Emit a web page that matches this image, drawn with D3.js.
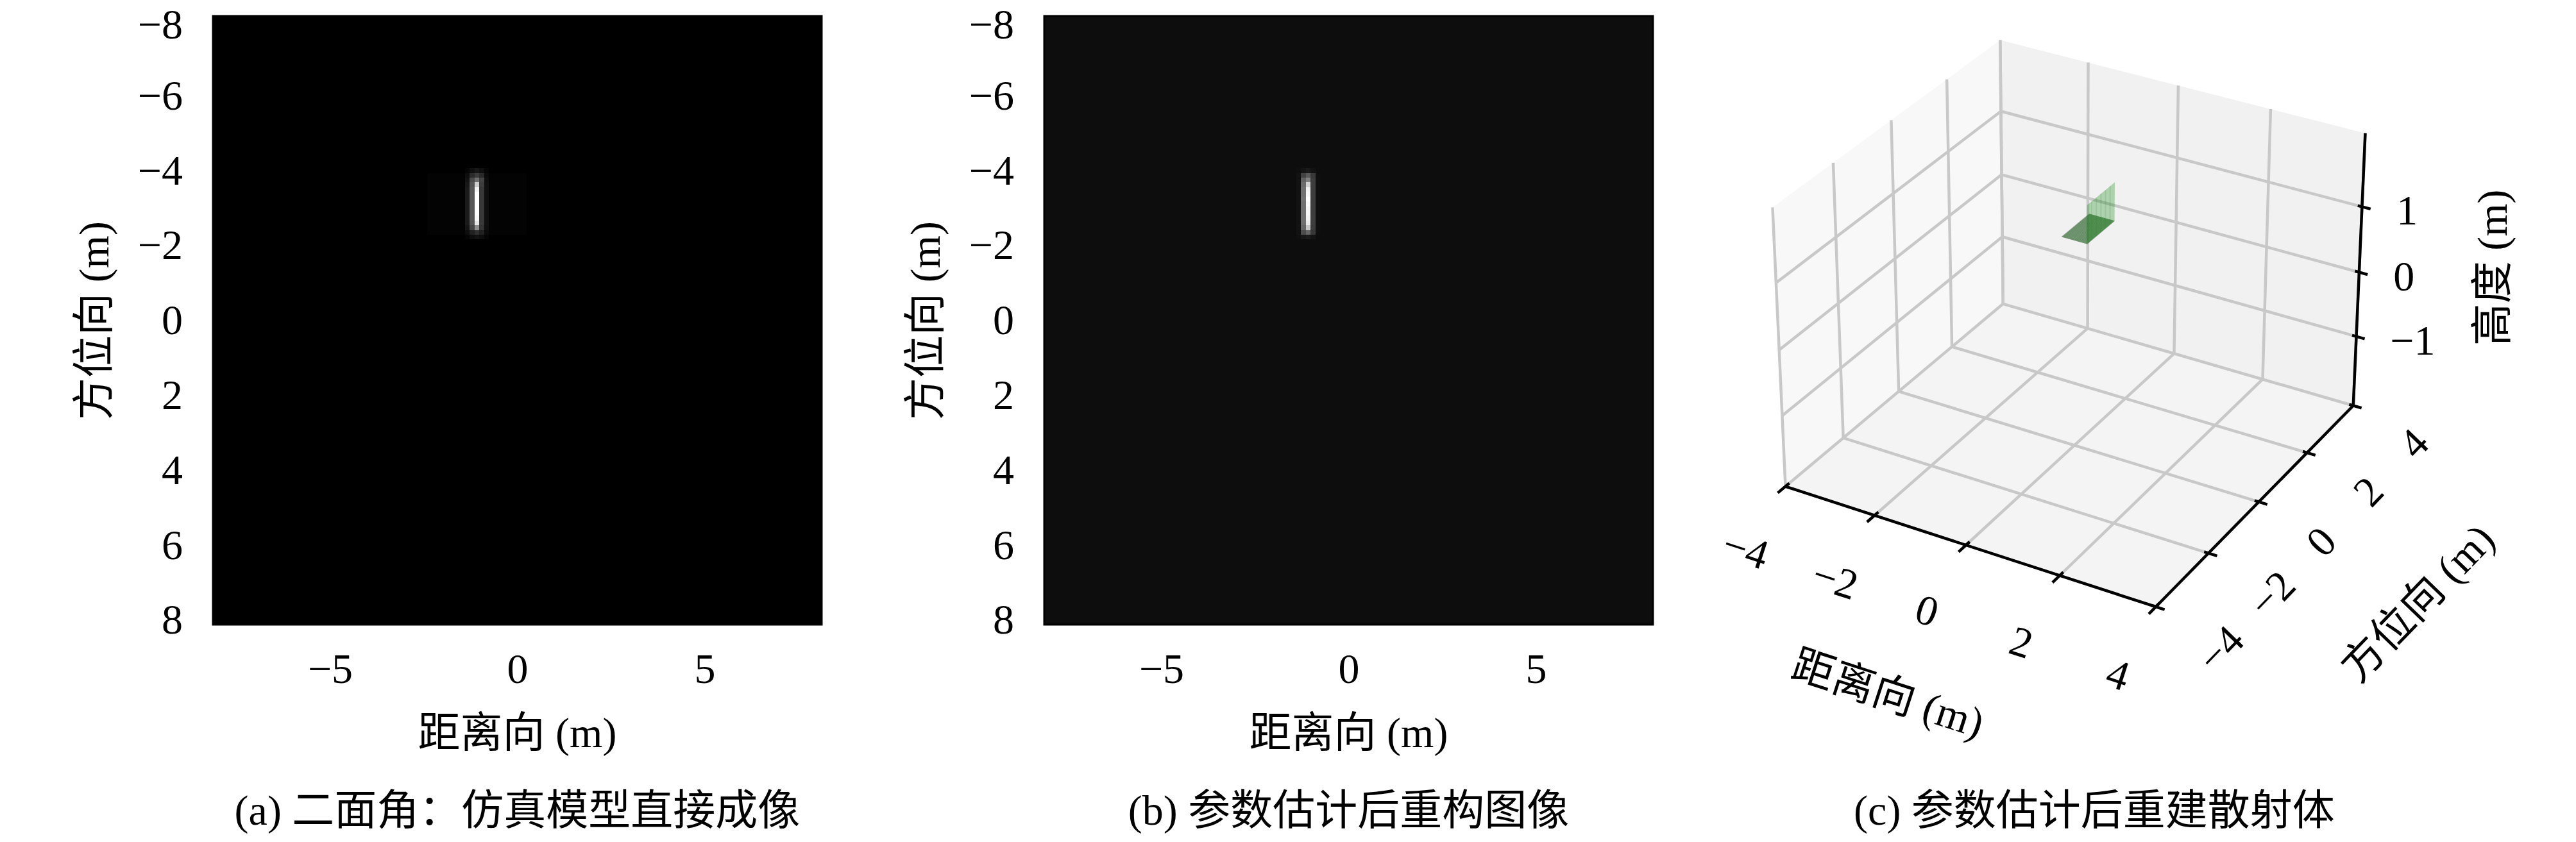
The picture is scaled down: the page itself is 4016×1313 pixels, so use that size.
<!DOCTYPE html>
<html>
<head>
<meta charset="utf-8">
<script src="https://cdn.jsdelivr.net/npm/d3@7"></script>
<style>
  body { margin: 0; background: #fff; overflow: hidden; }
  text { font-family: "Liberation Serif", "Noto Sans CJK SC", serif; fill: #000; }
</style>
</head>
<body>
<svg width="4016" height="1313"></svg>
<script>
// ---- 2D images (panels a, b) ----
var extent = [-8.125, 8.125];      // image extent, both axes (m)
var gridSize = 128;                // pixels per side
var yTicks2d = [-8, -6, -4, -2, 0, 2, 4, 6, 8];
var xTicks2d = [-5, 0, 5];

// bright patch of panel (a): rows 32..46, cols 53..57
var peakA = {row0: 32, col0: 53, values: [
  [0.02, 0.06, 0.09, 0.06, 0.02],
  [0.05, 0.17, 0.23, 0.16, 0.04],
  [0.07, 0.29, 0.43, 0.26, 0.05],
  [0.09, 0.33, 0.80, 0.24, 0.06],
  [0.10, 0.34, 0.95, 0.22, 0.06],
  [0.10, 0.34, 1.00, 0.22, 0.06],
  [0.10, 0.34, 1.00, 0.22, 0.06],
  [0.10, 0.34, 1.00, 0.22, 0.06],
  [0.10, 0.34, 1.00, 0.22, 0.06],
  [0.10, 0.34, 1.00, 0.22, 0.06],
  [0.10, 0.34, 0.98, 0.22, 0.06],
  [0.10, 0.33, 0.90, 0.22, 0.06],
  [0.08, 0.27, 0.56, 0.20, 0.05],
  [0.05, 0.13, 0.19, 0.13, 0.04],
  [0.02, 0.05, 0.07, 0.05, 0.02]
]};
// faint range sidelobes around the patch in (a)
var sidelobeA = {row0: 33, row1: 45, col0: 45, col1: 65, value: 0.01};
var backgroundA = 0.0;

// bright patch of panel (b)
var peakB = {row0: 32, col0: 53, values: [
  [0.06, 0.08, 0.10, 0.07, 0.05],
  [0.07, 0.26, 0.35, 0.22, 0.06],
  [0.07, 0.38, 0.50, 0.24, 0.06],
  [0.07, 0.42, 0.82, 0.24, 0.06],
  [0.07, 0.44, 0.95, 0.24, 0.06],
  [0.07, 0.44, 0.97, 0.24, 0.06],
  [0.07, 0.45, 1.00, 0.24, 0.06],
  [0.07, 0.44, 0.98, 0.24, 0.06],
  [0.07, 0.44, 0.96, 0.24, 0.06],
  [0.07, 0.44, 0.97, 0.24, 0.06],
  [0.07, 0.44, 0.95, 0.24, 0.06],
  [0.07, 0.43, 0.92, 0.24, 0.06],
  [0.07, 0.40, 0.78, 0.23, 0.06],
  [0.07, 0.30, 0.40, 0.22, 0.06],
  [0.06, 0.09, 0.11, 0.08, 0.05]
]};
var backgroundB = 0.05;

// ---- 3D panel (c) ----
var xLim = [-4, 4], yLim = [-4, 4], zLim = [-2.1, 2.1];
var xTicks3d = [-4, -2, 0, 2, 4];
var yTicks3d = [-4, -2, 0, 2, 4];
var zTicks3d = [-1, 0, 1];
// reconstructed dihedral: horizontal plate + vertical plate
var plateH = {x: [-1.65, -1.08], y: [2.36, 3.45], z: 0};
var plateV = {x: -1.08, y: [2.36, 3.45], z: [0, 0.6]};

var captions = ['(a) 二面角：仿真模型直接成像', '(b) 参数估计后重构图像', '(c) 参数估计后重建散射体'];

var svg = d3.select('svg');
var fs = 66;
function fmt(d){ return d < 0 ? '\u2212' + Math.abs(d) : String(d); }
var gray = d3.scaleLinear().domain([0, 1]).range(['#000', '#fff']).clamp(true);

function imagePanel(left, peak, bg, lobe, caption){
  var top = 25, size = 949;
  var x = d3.scaleLinear().domain(extent).range([left, left + size]);
  var y = d3.scaleLinear().domain(extent).range([top, top + size]);
  var cell = (extent[1] - extent[0]) / gridSize;
  var g = svg.append('g');

  g.append('rect')
    .attr('x', x(extent[0])).attr('y', y(extent[0]))
    .attr('width', size).attr('height', size)
    .attr('fill', gray(bg));

  var cells = [];
  if (lobe){
    for (var r = lobe.row0; r <= lobe.row1; r++)
      for (var c = lobe.col0; c <= lobe.col1; c++)
        cells.push({r: r, c: c, v: lobe.value});
  }
  peak.values.forEach(function(row, i){
    row.forEach(function(v, j){ cells.push({r: peak.row0 + i, c: peak.col0 + j, v: v}); });
  });

  g.selectAll('rect.cell').data(cells).enter().append('rect')
    .attr('class', 'cell')
    .attr('x', function(d){ return Math.round(x(extent[0] + d.c * cell)); })
    .attr('y', function(d){ return Math.round(y(extent[0] + d.r * cell)); })
    .attr('width', function(d){ return Math.round(x(extent[0] + (d.c + 1) * cell)) - Math.round(x(extent[0] + d.c * cell)); })
    .attr('height', function(d){ return Math.round(y(extent[0] + (d.r + 1) * cell)) - Math.round(y(extent[0] + d.r * cell)); })
    .attr('fill', function(d){ return gray(d.v); })
    .attr('shape-rendering', 'crispEdges');

  g.append('rect')
    .attr('x', left).attr('y', top).attr('width', size).attr('height', size)
    .attr('fill', 'none').attr('stroke', '#000').attr('stroke-width', 3);

  var ay = g.append('g').call(d3.axisLeft(y).tickValues(yTicks2d).tickSize(0).tickPadding(47).tickFormat(fmt))
    .attr('transform', 'translate(' + left + ',0)');
  var ax = g.append('g').call(d3.axisBottom(x).tickValues(xTicks2d).tickSize(0).tickPadding(44).tickFormat(fmt))
    .attr('transform', 'translate(0,' + (top + size) + ')');
  [ay, ax].forEach(function(a){
    a.attr('font-size', fs).attr('font-family', null);
    a.select('.domain').remove();
  });
  // keep the topmost label's box inside the picture
  ay.selectAll('.tick text').filter(function(d){ return d === yTicks2d[0]; }).attr('dy', '0.41em');

  var cx = left + size / 2;
  g.append('text').attr('transform', 'translate(' + (left - 186) + ',500) rotate(-90)')
    .attr('text-anchor', 'middle').attr('dominant-baseline', 'central')
    .attr('font-size', fs).text('方位向 (m)');
  g.append('text').attr('x', cx).attr('y', 1142)
    .attr('text-anchor', 'middle').attr('dominant-baseline', 'central')
    .attr('font-size', fs).text('距离向 (m)');
  g.append('text').attr('x', cx).attr('y', 1263)
    .attr('text-anchor', 'middle').attr('dominant-baseline', 'central')
    .attr('font-size', fs).text(caption);
}

imagePanel(332, peakA, backgroundA, sidelobeA, captions[0]);
imagePanel(1628, peakB, backgroundB, null, captions[1]);

// ---- 3D projection (elev 30, azim -60, perspective) ----
var view = {cx: 3234, cy: 484, scale: 5790, elev: 30, azim: -60, dist: 10};
var aspect = [4, 4, 3];
var an = Math.hypot(aspect[0], aspect[1], aspect[2]);
var box = aspect.map(function(a){ return a * 1.8294640721620434 / an; });
var sx = d3.scaleLinear().domain(xLim).range([-box[0] / 2, box[0] / 2]);
var sy = d3.scaleLinear().domain(yLim).range([-box[1] / 2, box[1] / 2]);
var sz = d3.scaleLinear().domain(zLim).range([-box[2] / 2, box[2] / 2]);
var px = d3.scaleLinear().domain([0, 1]).range([view.cx, view.cx + view.scale]);
var py = d3.scaleLinear().domain([0, 1]).range([view.cy, view.cy - view.scale]);

function dot(a, b){ return a[0]*b[0] + a[1]*b[1] + a[2]*b[2]; }
function cross(a, b){ return [a[1]*b[2] - a[2]*b[1], a[2]*b[0] - a[0]*b[2], a[0]*b[1] - a[1]*b[0]]; }
var el = view.elev * Math.PI / 180, az = view.azim * Math.PI / 180;
var w = [Math.cos(el) * Math.cos(az), Math.cos(el) * Math.sin(az), Math.sin(el)];
var u = cross([0, 0, 1], w);
var un = Math.hypot(u[0], u[1], u[2]);
u = u.map(function(a){ return a / un; });
var v = cross(w, u);

function proj(p){
  var q = [sx(p[0]), sy(p[1]), sz(p[2])];
  var depth = view.dist - dot(w, q);
  return [px(dot(u, q) / depth), py(dot(v, q) / depth)];
}

var line3 = d3.line().x(function(d){ return proj(d)[0]; }).y(function(d){ return proj(d)[1]; });
var gc = svg.append('g');
var x0 = xLim[0], x1 = xLim[1], y0 = yLim[0], y1 = yLim[1], z0 = zLim[0], z1 = zLim[1];

// panes
var panes = [
  {pts: [[x0, y0, z0], [x0, y1, z0], [x0, y1, z1], [x0, y0, z1]], fill: '#f8f8f8'},
  {pts: [[x0, y1, z0], [x1, y1, z0], [x1, y1, z1], [x0, y1, z1]], fill: '#f1f1f1'},
  {pts: [[x0, y0, z0], [x1, y0, z0], [x1, y1, z0], [x0, y1, z0]], fill: '#f4f4f4'}
];
gc.selectAll('path.pane').data(panes).enter().append('path')
  .attr('class', 'pane')
  .attr('d', function(d){ return line3(d.pts) + 'Z'; })
  .attr('fill', function(d){ return d.fill; });

// grid lines
var grid = [];
xTicks3d.forEach(function(t){
  grid.push([[t, y0, z0], [t, y1, z0]]);
  grid.push([[t, y1, z0], [t, y1, z1]]);
});
yTicks3d.forEach(function(t){
  grid.push([[x0, t, z0], [x1, t, z0]]);
  grid.push([[x0, t, z0], [x0, t, z1]]);
});
zTicks3d.forEach(function(t){
  grid.push([[x0, y0, t], [x0, y1, t]]);
  grid.push([[x0, y1, t], [x1, y1, t]]);
});
gc.selectAll('path.grid').data(grid).enter().append('path')
  .attr('class', 'grid').attr('d', line3)
  .attr('fill', 'none').attr('stroke', '#c8c8c8').attr('stroke-width', 4.5);

// axis lines
var axes3 = [
  [[x0, y0, z0], [x1, y0, z0]],
  [[x1, y0, z0], [x1, y1, z0]],
  [[x1, y1, z0], [x1, y1, z1]]
];
gc.selectAll('path.axis').data(axes3).enter().append('path')
  .attr('class', 'axis').attr('d', line3)
  .attr('fill', 'none').attr('stroke', '#000').attr('stroke-width', 4.5);

// tick marks
var tickMarks = [];
xTicks3d.forEach(function(t){ tickMarks.push([[t, y0 + 0.13, z0], [t, y0 - 0.26, z0]]); });
yTicks3d.forEach(function(t){ tickMarks.push([[x1 - 0.09, t, z0], [x1 + 0.18, t, z0]]); });
zTicks3d.forEach(function(t){ tickMarks.push([[x1 - 0.09, y1, t], [x1 + 0.18, y1, t]]); });
gc.selectAll('path.tick').data(tickMarks).enter().append('path')
  .attr('class', 'tick').attr('d', line3)
  .attr('fill', 'none').attr('stroke', '#000').attr('stroke-width', 4.5);

// tick labels
function label3(p, txt, rot, anchor){
  var s = proj(p);
  gc.append('text')
    .attr('transform', 'translate(' + s[0] + ',' + s[1] + ') rotate(' + rot + ')')
    .attr('text-anchor', anchor || 'middle').attr('dy', '0.33em')
    .attr('font-size', fs).text(txt);
}
xTicks3d.forEach(function(t){ label3([t, y0 - 1.38, z0 - 0.45], fmt(t), 18); });
yTicks3d.forEach(function(t){ label3([x1 + 1.33, t, z0 - 0.32], fmt(t), -46); });
zTicks3d.forEach(function(t){ label3([x1 + 0.72, y1, t + 0.08], fmt(t), 0, 'start'); });

function axisLabel3(p, txt, rot){
  var s = proj(p);
  gc.append('text')
    .attr('transform', 'translate(' + s[0] + ',' + s[1] + ') rotate(' + rot + ')')
    .attr('text-anchor', 'middle').attr('dominant-baseline', 'central')
    .attr('font-size', fs).text(txt);
}
axisLabel3([0, y0 - 2.75, z0 - 1.15], '距离向 (m)', 18);
axisLabel3([x1 + 3.35, 0, z0 - 0.8], '方位向 (m)', -46);
axisLabel3([x1 + 2.74, y1, 0.61], '高度 (m)', -90);

// plates
var hPts = [[plateH.x[0], plateH.y[0], plateH.z], [plateH.x[1], plateH.y[0], plateH.z],
            [plateH.x[1], plateH.y[1], plateH.z], [plateH.x[0], plateH.y[1], plateH.z]];
gc.append('path').attr('d', line3(hPts) + 'Z')
  .attr('fill', '#2f7d2f').attr('fill-opacity', 0.6);
var hMesh = d3.range(0, 21).map(function(i){
  var xx = plateH.x[0] + (plateH.x[1] - plateH.x[0]) * i / 20;
  return [[xx, plateH.y[0], plateH.z], [xx, plateH.y[1], plateH.z]];
});
gc.selectAll('path.hmesh').data(hMesh).enter().append('path')
  .attr('class', 'hmesh').attr('d', line3)
  .attr('stroke', '#4a5a4a').attr('stroke-opacity', 0.4).attr('stroke-width', 1.3).attr('fill', 'none');

var vPts = [[plateV.x, plateV.y[0], plateV.z[0]], [plateV.x, plateV.y[1], plateV.z[0]],
            [plateV.x, plateV.y[1], plateV.z[1]], [plateV.x, plateV.y[0], plateV.z[1]]];
gc.append('path').attr('d', line3(vPts) + 'Z')
  .attr('fill', '#008000').attr('fill-opacity', 0.28);
var vMesh = d3.range(1, 6).map(function(i){
  var yy = plateV.y[0] + (plateV.y[1] - plateV.y[0]) * i / 6;
  return [[plateV.x, yy, plateV.z[0]], [plateV.x, yy, plateV.z[1]]];
});
gc.selectAll('path.vmesh').data(vMesh).enter().append('path')
  .attr('class', 'vmesh').attr('d', line3)
  .attr('stroke', '#2e7d2e').attr('stroke-opacity', 0.15).attr('stroke-width', 2).attr('fill', 'none');

gc.append('text').attr('x', 3265).attr('y', 1263)
  .attr('text-anchor', 'middle').attr('dominant-baseline', 'central')
  .attr('font-size', fs).text(captions[2]);
</script>
</body>
</html>
